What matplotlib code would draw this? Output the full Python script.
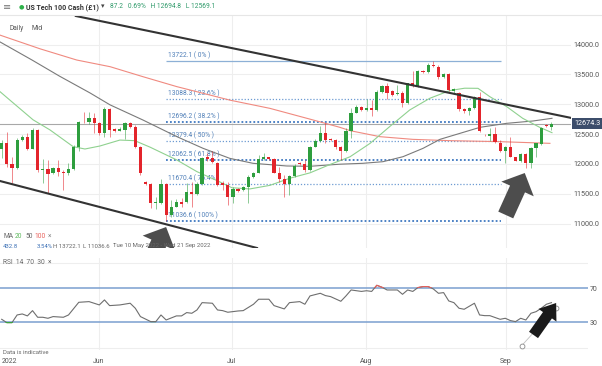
#!/usr/bin/env python3

import matplotlib
matplotlib.use("Agg")
import matplotlib.pyplot as plt
from matplotlib.patches import FancyArrowPatch, Rectangle
import numpy as np

# daily candles as shown on the IG chart (Sunday sessions included), index 0 = first candle
opens = [12245, 12355, 12000, 11925, 12400, 12445, 12250, 12570, 11900, 11910,
         11840, 11925, 11870, 11840, 11910, 12280, 12710, 12695, 12765, 12690,
         12525, 12915, 12580, 12555, 12570, 12690, 12625, 12280, 11700, 11655,
         11340, 11340, 11655, 11140, 11280, 11365, 11365, 11535, 11495, 11660,
         12110, 12095, 12020, 11680, 11645, 11450, 11575, 11560, 11620, 11785,
         11855, 12075, 12110, 12075, 11855, 11740, 11665, 11795, 12020, 11995,
         11900, 12290, 12390, 12525, 12425, 12400, 12290, 12215, 12560, 12860,
         12960, 12905, 12930, 12905, 13210, 13305, 13230, 13165, 13185, 13015,
         13365, 13305, 13560, 13535, 13660, 13630, 13465, 13510, 13230, 13185,
         12920, 12890, 12930, 13115, 12485, 12475, 12495, 12355, 12215, 12290,
         12110, 12055, 12165, 12010, 12270, 12335, 12655, 12614]
highs = [12400, 12540, 12120, 12430, 12480, 12525, 12595, 12580, 12075, 12065,
         11955, 12065, 11895, 12010, 12315, 12720, 12875, 12875, 12850, 12705,
         12960, 12930, 12595, 12625, 12710, 12710, 12650, 12300, 11720, 11675,
         11450, 11755, 11675, 11395, 11405, 11420, 11675, 11700, 11700, 12120,
         12175, 12220, 12035, 11720, 11700, 11620, 11590, 11635, 11815, 11870,
         12150, 12175, 12120, 12095, 11955, 11815, 11815, 12000, 12035, 12065,
         12300, 12410, 12635, 12680, 12435, 12410, 12300, 12595, 12930, 12990,
         12970, 13085, 13070, 13240, 13325, 13350, 13240, 13325, 13230, 13365,
         13565, 13575, 13575, 13690, 13722.1, 13660, 13520, 13520, 13280, 13210,
         12930, 12960, 13140, 13210, 12495, 12595, 12625, 12400, 12300, 12455,
         12120, 12175, 12175, 12290, 12355, 12615, 12665, 12694.8]
lows = [12095, 11955, 11685, 11910, 12380, 12235, 12245, 11870, 11685, 11505,
        11830, 11795, 11560, 11815, 11895, 12220, 12680, 12670, 12515, 12485,
        12455, 12445, 12540, 12545, 12410, 12595, 12260, 11815, 11645, 11255,
        11235, 11325, 11036.6, 11115, 11270, 11280, 11350, 11280, 11480, 11645,
        12055, 12010, 11630, 11560, 11310, 11340, 11535, 11550, 11340, 11760,
        11840, 12065, 12065, 11840, 11700, 11450, 11480, 11785, 11980, 11870,
        11885, 12280, 12375, 12345, 12390, 12245, 12065, 12205, 12430, 12850,
        12895, 12895, 12805, 12895, 13185, 13085, 13140, 13155, 12950, 13005,
        13295, 13295, 13520, 13520, 13630, 13420, 13435, 13230, 13190, 12895,
        12860, 12820, 12915, 12540, 12470, 12390, 12345, 12200, 12010, 12110,
        12055, 12035, 11925, 11925, 12120, 12315, 12625, 12569.1]
closes = [12355, 12000, 11925, 12400, 12445, 12250, 12570, 11900, 11920, 11825,
          11925, 11870, 11840, 11910, 12280, 12710, 12695, 12765, 12690, 12525,
          12915, 12570, 12555, 12580, 12690, 12625, 12280, 11840, 11660, 11350,
          11365, 11655, 11140, 11280, 11365, 11325, 11535, 11490, 11660, 12095,
          12075, 12035, 11645, 11650, 11450, 11575, 11550, 11620, 11785, 11855,
          12075, 12120, 12075, 11855, 11740, 11665, 11795, 11965, 11995, 11900,
          12290, 12390, 12525, 12400, 12400, 12290, 12215, 12560, 12860, 12960,
          12905, 12930, 12905, 13210, 13305, 13195, 13155, 13195, 13015, 13350,
          13325, 13565, 13535, 13660, 13645, 13455, 13510, 13240, 13250, 12915,
          12890, 12930, 13130, 12560, 12480, 12495, 12375, 12215, 12290, 12120,
          12055, 12165, 12010, 12270, 12345, 12595, 12635, 12674.3]

# moving averages (candle index, price)
ma20_x = [-0.3, 1.6, 6.1, 9.4, 13.9, 16.2, 19.1, 23.0, 25.9, 28.9, 34.1, 38.0, 41.9,
          44.8, 48.3, 52.2, 56.1, 60.0, 63.9, 67.8, 71.7, 75.5, 79.4, 83.3, 87.2,
          90.1, 92.7, 95.0, 98.3, 101.4, 104.7, 107.1]
ma20_y = [13210, 13070, 12740, 12570, 12290, 12250, 12300, 12400, 12390, 12280, 12065,
          11870, 11720, 11600, 11580, 11640, 11760, 11850, 11990, 12120, 12345, 12625,
          12904, 13100, 13230, 13270, 13268, 13128, 12960, 12765, 12614, 12524]
ma50_x = [-0.3, 5.9, 11.3, 17.2, 21.1, 27.5, 34.1, 39.2, 44.4, 48.9, 55.5, 60.0, 65.8,
          70.3, 74.2, 78.1, 82.0, 85.3, 89.2, 93.1, 98.3, 103.4, 107.1]
ma50_y = [14045, 13743, 13470, 13190, 12990, 12736, 12457, 12261, 12093, 12010, 11965,
          11960, 11995, 12010, 12037, 12121, 12261, 12412, 12513, 12614, 12681, 12720,
          12765]
ma100_x = [-0.3, 7.5, 14.6, 21.1, 27.5, 34.1, 40.5, 44.4, 52.2, 60.6, 65.8, 67.8, 73.6,
           80.0, 87.2, 97.0, 106.7]
ma100_y = [14160, 13930, 13743, 13631, 13463, 13296, 13156, 13070, 12932, 12737, 12614,
           12558, 12457, 12412, 12390, 12373, 12345]

fib_levels = [13722.1, 13088.3, 12696.2, 12379.4, 12062.5, 11670.4, 11036.6]
fib_labels = ["13722.1 ( 0% )", "13088.3 ( 23.6% )", "12696.2 ( 38.2% )",
              "12379.4 ( 50% )", "12062.5 ( 61.8% )", "11670.4 ( 76.4% )",
              "11036.6 ( 100% )"]

rsi_x = [0, 1, 2, 3, 4, 5, 6, 7, 8, 9, 10, 12, 13, 15, 17, 19, 20, 21, 23, 25,
         26, 27, 29, 30, 31, 32, 34, 35, 36, 37, 38, 39, 41, 42, 43, 44, 46, 47, 49, 50,
         52, 53, 55, 56, 58, 59, 60, 62, 63, 64, 66, 67, 68, 70, 71, 72, 73, 74, 75, 77,
         78, 79, 80, 81, 82, 83, 84, 85, 86, 87, 88, 89, 90, 92, 93, 94, 95, 97, 98, 99,
         100, 101, 102, 103, 104, 105, 106, 107]
rsi_y = [33.5, 29.6, 29.6, 38.6, 39.8, 37.5, 43.7, 35.9, 35.9, 34.7,
         36.7, 35.9, 38.6, 53.5, 54.3, 50.4, 56.3, 49.6, 50.4, 52.4,
         46.5, 36.7, 30.8, 30.8, 38.6, 32.7, 37.5, 37.5, 41.4, 40.6,
         44.5, 53.1, 52.4, 44.5, 43.7, 41.8, 43.3, 43.7, 51.2, 57.1,
         57.1, 49.6, 45.7, 53.1, 54.3, 51.2, 61.0, 64.1, 61.4, 60.2,
         54.7, 61.0, 68.0, 66.3, 67.1, 66.3, 73.5, 71.2, 68.0, 68.0,
         62.9, 68.0, 66.3, 70.8, 72.0, 72.0, 69.2, 64.1, 64.9, 55.1,
         53.1, 46.5, 45.3, 52.4, 38.6, 37.8, 37.8, 33.5, 34.7, 32.0,
         30.8, 34.7, 32.7, 40.6, 42.5, 46.5, 51.2, 53.1]

month_pos = [0.0, 18.9, 44.8, 70.9, 98.1]
month_labels = ["2022", "Jun", "Jul", "Aug", "Sep"]
price_ticks = [11000, 11500, 12000, 12500, 13000, 13500, 14000]
last_price = 12674.3

W, H = 602, 366
GREEN = "#2e9e3e"
RED = "#e3242b"
GREY = "#555555"


def fx(px):
    return px / W


def fy(py):
    return 1 - py / H


def draw(filename):
    plt.rcParams['font.family'] = ['Roboto', 'DejaVu Sans']
    plt.rcParams['font.size'] = 5
    fig = plt.figure(figsize=(W / 100, H / 100), dpi=100)

    # ---- price panel
    ax = fig.add_axes([0, fy(248), fx(571), fy(16) - fy(248)])
    for s in ax.spines.values():
        s.set_visible(False)
    x = np.arange(len(opens))
    o = np.array(opens)
    c = np.array(closes)
    cols = np.where(c >= o, GREEN, RED)
    ax.vlines(x, lows, highs, colors=cols, lw=0.7, alpha=0.55, zorder=3)
    ax.bar(x, np.maximum(np.abs(c - o), 8), bottom=np.minimum(o, c), width=0.62,
           color=cols, zorder=4)

    ax.plot(ma100_x, ma100_y, color="#f08a80", lw=0.8, zorder=2)
    ax.plot(ma50_x, ma50_y, color="#7a7a7a", lw=0.8, zorder=2)
    ax.plot(ma20_x, ma20_y, color="#8fd18f", lw=0.8, zorder=2)

    # fibonacci retracement (drawn from the May low to the August high)
    for k, (lvl, lab) in enumerate(zip(fib_levels, fib_labels)):
        if k == 0:
            ax.hlines(lvl, 32, 97.1, color="#8db0d6", lw=0.9, zorder=1)
        elif k in (2, 4, 6):
            ax.hlines(lvl, 32, 97.1, color="#3f78c0", lw=1.3, ls=(0, (1, 1.2)), zorder=1)
        else:
            ax.hlines(lvl, 32, 97.1, color="#6d9bd2", lw=0.9, ls=(0, (1, 1.5)), zorder=1)
        ax.annotate(lab, (32.4, lvl), xytext=(0, 1.2), textcoords="offset points",
                    ha="left", va="bottom", fontsize=4.8, color="#4f7fb8", zorder=1)

    # channel lines
    ax.axline((63.9, 13604), (111.2, 12765), color="#333333", lw=1.5, zorder=5)
    ax.axline((-0.33, 11713), (51.2, 10555), color="#333333", lw=1.5, zorder=5)

    ax.axhline(last_price, color="#a8a8a8", lw=0.8, zorder=1)
    for m in month_pos[1:]:
        ax.axvline(m, color="#eeeeee", lw=0.8, zorder=0)

    arrow_kw = dict(arrowstyle="simple,head_length=12.6,head_width=25.6,tail_width=11.8",
                    mutation_scale=1, shrinkA=0, shrinkB=0, fc="#4d4d4d", ec="none",
                    zorder=6)
    ax.add_patch(FancyArrowPatch((28.3, 10237), (32.0, 10941), **arrow_kw))
    ax.add_patch(FancyArrowPatch((98.1, 11143), (101.8, 11847), **arrow_kw))

    ax.set_xlim(-0.33, 110.8)
    ax.set_ylim(10589, 14481.5)
    ax.set_xticks([])
    ax.set_yticks(price_ticks)
    ax.set_yticklabels([f"{v:.1f}" for v in price_ticks])
    ax.yaxis.tick_right()
    ax.tick_params(axis="y", length=0, pad=1.5, labelsize=5.2, labelcolor=GREY)
    ax.grid(axis="y", color="#eeeeee", lw=0.8)
    ax.set_axisbelow(True)
    ax.annotate(f"{last_price:.1f}", (1, last_price), xycoords=("axes fraction", "data"),
                xytext=(2.2, 0), textcoords="offset points", ha="left", va="center",
                fontsize=5.2, color="white", annotation_clip=False,
                bbox=dict(boxstyle="square,pad=0.3", fc="#3c4d6b", ec="none"))

    # ---- RSI panel
    ax2 = fig.add_axes([0, fy(350), fx(588), fy(258) - fy(350)])
    for s in ax2.spines.values():
        s.set_visible(False)
    ax2.set_xlim(-0.33, 114.1)
    ax2.set_ylim(-2.6, 105.6)
    for lvl in (0, 100):
        ax2.axhline(lvl, color="#eeeeee", lw=0.8, zorder=0)
    for m in month_pos[1:]:
        ax2.axvline(m, color="#eeeeee", lw=0.8, zorder=0)
    for lvl in (30, 70):
        ax2.axhline(lvl, color="#7a9fd0", lw=1.1, zorder=1)
    ax2.plot(rsi_x, rsi_y, color="#6e6e6e", lw=0.8, zorder=2)
    hi, = ax2.plot(rsi_x, rsi_y, color="#e8605a", lw=0.8, zorder=3)
    hi.set_clip_path(Rectangle((-1, 70), 200, 50, transform=ax2.transData))
    lo, = ax2.plot(rsi_x, rsi_y, color="#3aa63a", lw=0.8, zorder=3)
    lo.set_clip_path(Rectangle((-1, -10), 200, 40, transform=ax2.transData))

    ax2.plot([101.2, 107.8], [2.5, 46.5], color="#c0c0c0", lw=0.6, zorder=3)
    ax2.plot([101.2, 107.8], [2.5, 46.5], ls="none", marker="o", ms=3.5,
             mfc="white", mec="#8a8a8a", mew=0.6, zorder=4)
    ax2.add_patch(FancyArrowPatch((103.5, 15.1), (107.9, 52.7),
                                  arrowstyle="simple,head_length=10.8,head_width=15.8,tail_width=7.9",
                                  mutation_scale=1, shrinkA=0, shrinkB=0,
                                  fc="#1a1a1a", ec="none", zorder=5))

    ax2.set_yticks([30, 70])
    ax2.yaxis.tick_right()
    ax2.tick_params(axis="y", length=0, pad=1.5, labelsize=5, labelcolor=GREY)
    ax2.set_xticks(month_pos)
    ax2.set_xticklabels(month_labels)
    ax2.tick_params(axis="x", length=0, pad=6, labelsize=5, labelcolor=GREY)
    ax2.get_xticklabels()[0].set_ha("left")

    # ---- header and legends
    fig.add_artist(plt.Line2D([0, 1], [fy(15), fy(15)], color="#e6e6e6", lw=0.8))
    fig.text(fx(3), fy(7), "≡", fontsize=7, color="#777777", va="center")
    fig.text(fx(18.5), fy(7), "●", fontsize=4.5, color="#2fb24a", va="center")
    fig.text(fx(26), fy(7), "US Tech 100 Cash (£1)", fontsize=5.0, color="#333333",
             weight="bold", va="center")
    fig.text(fx(101), fy(7), "▾", fontsize=5, color="#444444", va="center")
    fig.text(fx(110), fy(7), "87.2   0.69%   H 12694.8   L 12569.1", fontsize=4.8,
             color="#2f9a6a", va="center")
    fig.text(fx(9), fy(29), "Daily", fontsize=4.8, color=GREY, va="center")
    fig.text(fx(32), fy(29), "Mid", fontsize=4.8, color=GREY, va="center")

    y_ma = fy(236)
    for px, t, col in [(3, "MA", "#666666"), (15, "20", "#5cb85c"), (25, "50", "#666666"),
                       (34, "100", "#e8605a"), (48, "×", "#888888")]:
        fig.text(fx(px), y_ma, t, fontsize=4.8, color=col, va="center")
    y_ms = fy(246)
    for px, t, col in [(3, "432.8", "#3a6fb5"), (37, "3.54%", "#3a6fb5"),
                       (53, "H 13722.1", "#666666"), (83, "L 11036.6", "#666666"),
                       (113, "Tue 10 May 2022 - Wed 21 Sep 2022", "#666666")]:
        fig.text(fx(px), y_ms, t, fontsize=4.3, color=col, va="center")
    fig.text(fx(3), fy(262), "RSI  14  70  30  ×", fontsize=4.8, color="#666666",
             va="center")
    fig.text(fx(3), fy(352), "Data is indicative", fontsize=4.3, color="#666666",
             va="center")

    fig.savefig(filename, dpi=100, facecolor="white")


if __name__ == "__main__":
    draw("out.png")
